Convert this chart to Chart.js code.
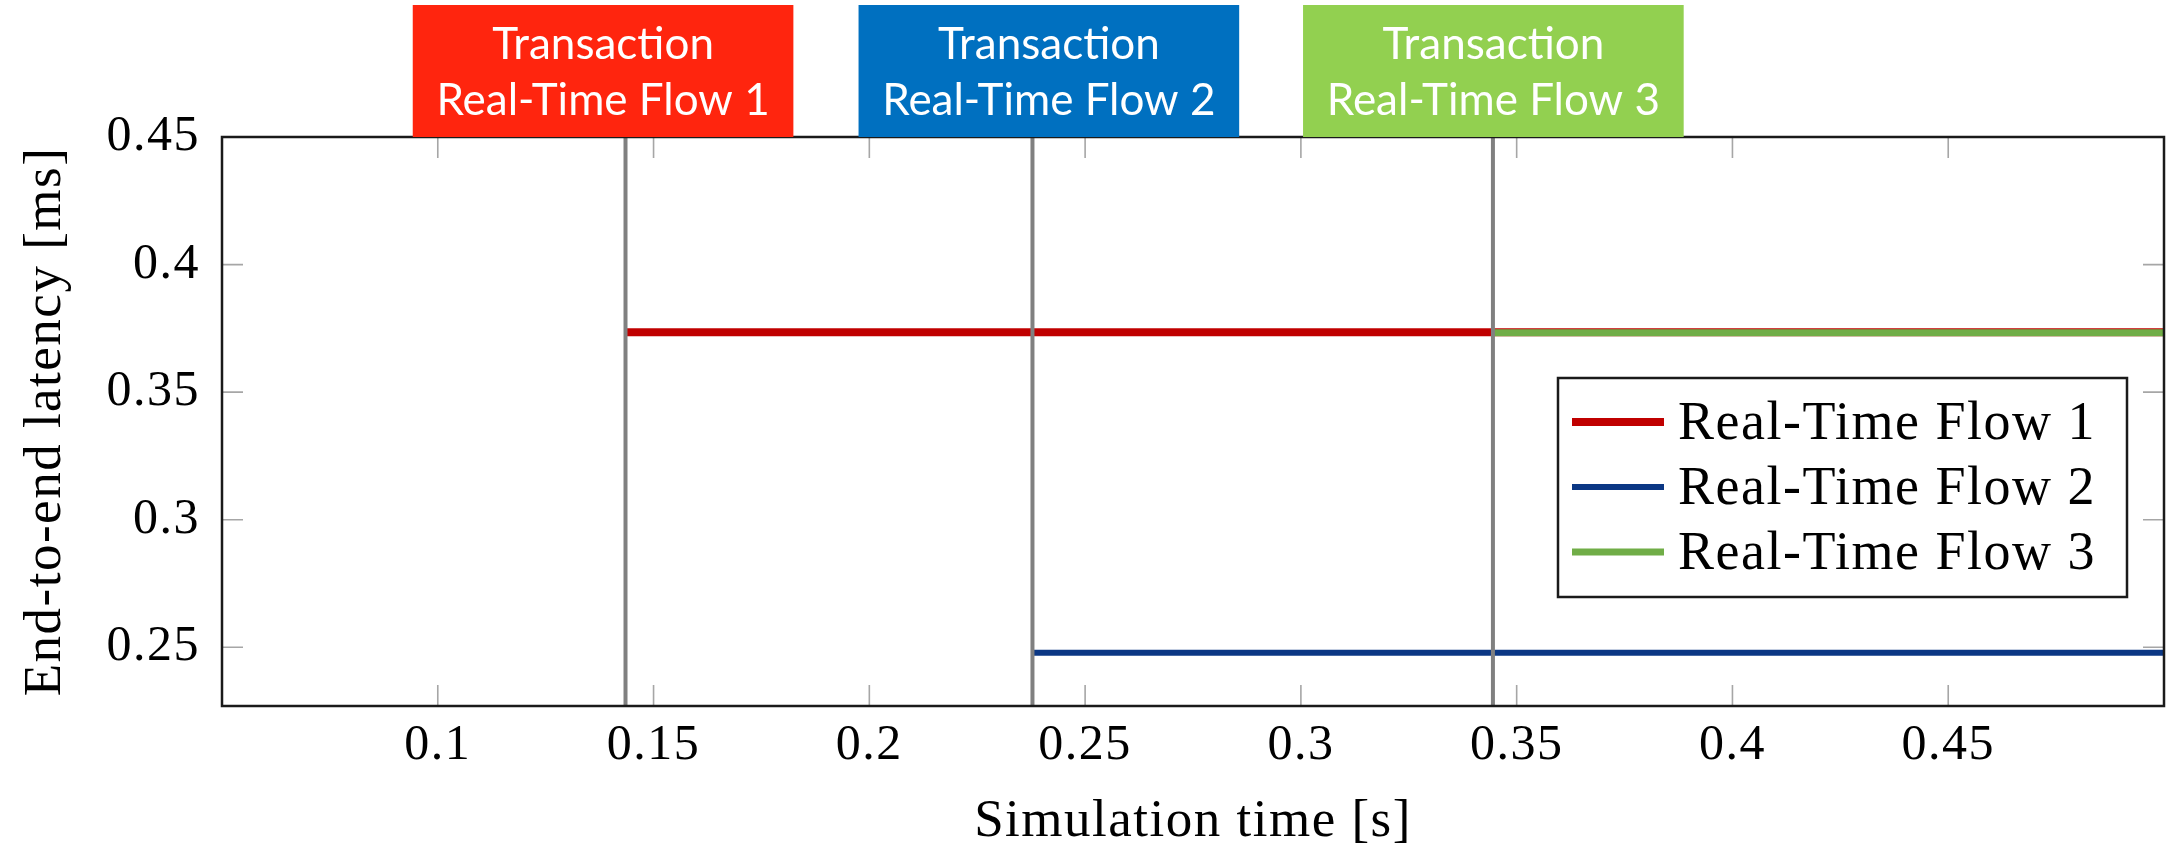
<!DOCTYPE html>
<html>
<head>
<meta charset="utf-8">
<script src="https://cdn.jsdelivr.net/npm/chart.js@4.4.1/dist/chart.umd.min.js"></script>
<style>
  html, body { margin: 0; padding: 0; background: #fff; }
  #wrap { width: 2166px; height: 850px; }
</style>
</head>
<body>
<div id="wrap"><canvas id="latency" width="2166" height="850"></canvas></div>
<script>
// flows: start time of the transaction [s] and the measured latency [ms]
const flowNames = ["Real-Time Flow 1", "Real-Time Flow 2", "Real-Time Flow 3"];
const flowStart = [0.1435, 0.2378, 0.3445];
const flowEnd = [0.5, 0.5, 0.5];
const flowLatency = [0.3735, 0.2479, 0.3733];

const xTicks = [0.1, 0.15, 0.2, 0.25, 0.3, 0.35, 0.4, 0.45];
const yTicks = [0.25, 0.3, 0.35, 0.4, 0.45];

const lineColors = ["#c00000", "#0b3784", "#70ad47"];
const lineWidths = [8, 6, 7];

// coloured "Transaction" boxes above the plot, centred on the time axis
const boxTitles = ["Transaction", "Transaction", "Transaction"];
const boxCenters = [0.1383, 0.2416, 0.3446];
const boxColors = ["#ff250e", "#0070c0", "#92d050"];
const BOX_SPAN = 0.0882; // width of a box in seconds

const serif = "'Liberation Serif', 'DejaVu Serif', serif";

const datasets = flowNames.map((name, i) => ({
  label: name,
  data: [{x: flowStart[i], y: flowLatency[i]}, {x: flowEnd[i], y: flowLatency[i]}],
  borderColor: lineColors[i],
  borderWidth: lineWidths[i],
  pointRadius: 0,
  borderCapStyle: "butt",
  order: [3, 2, 1][i]  // flow 3 on top of flow 1
}));

// frame, inward ticks, event lines, label boxes and the boxed legend
const decor = {
  id: "decor",
  beforeDraw(chart) {
    // the LaTeX font is wider than Liberation Serif, spread the letters a bit
    chart.ctx.letterSpacing = "1.5px";
  },
  afterDatasetsDraw(chart) {
    const {ctx, chartArea: a, scales: {x, y}} = chart;
    ctx.save();
    // vertical lines at each transaction
    ctx.strokeStyle = "#808080";
    ctx.lineWidth = 4;
    flowStart.forEach(t => {
      const px = x.getPixelForValue(t);
      ctx.beginPath(); ctx.moveTo(px, a.top); ctx.lineTo(px, a.bottom); ctx.stroke();
    });
    // inward ticks on all four sides
    ctx.strokeStyle = "#a6a6a6";
    ctx.lineWidth = 1.6;
    xTicks.forEach(v => {
      const px = x.getPixelForValue(v);
      ctx.beginPath();
      ctx.moveTo(px, a.bottom); ctx.lineTo(px, a.bottom - 21);
      ctx.moveTo(px, a.top); ctx.lineTo(px, a.top + 21);
      ctx.stroke();
    });
    yTicks.forEach(v => {
      const py = y.getPixelForValue(v);
      ctx.beginPath();
      ctx.moveTo(a.left, py); ctx.lineTo(a.left + 21, py);
      ctx.moveTo(a.right, py); ctx.lineTo(a.right - 21, py);
      ctx.stroke();
    });
    // plot frame
    ctx.strokeStyle = "#1a1a1a";
    ctx.lineWidth = 2.5;
    ctx.strokeRect(a.left, a.top, a.right - a.left, a.bottom - a.top);
    ctx.restore();
  },
  afterDraw(chart) {
    const {ctx, chartArea: a, scales: {x}} = chart;
    ctx.save();
    // boxes
    ctx.letterSpacing = "0px";
    boxCenters.forEach((c, i) => {
      const l = x.getPixelForValue(c - BOX_SPAN / 2);
      const r = x.getPixelForValue(c + BOX_SPAN / 2);
      ctx.fillStyle = boxColors[i];
      ctx.fillRect(l, 5, r - l, a.top - 5);
      ctx.fillStyle = "#fff";
      ctx.font = "44px Lato, 'Open Sans', sans-serif";
      ctx.textAlign = "center";
      ctx.textBaseline = "alphabetic";
      ctx.fillText(boxTitles[i], (l + r) / 2, 59);
      ctx.fillText(flowNames[i], (l + r) / 2, 115);
    });
    // legend
    const lx = 1558, ly = 378, lw = 569, lh = 219;
    ctx.fillStyle = "#fff";
    ctx.fillRect(lx, ly, lw, lh);
    ctx.strokeStyle = "#1a1a1a";
    ctx.lineWidth = 2.5;
    ctx.strokeRect(lx, ly, lw, lh);
    ctx.font = "54px " + serif;
    ctx.letterSpacing = "1.5px";
    ctx.textAlign = "left";
    chart.data.datasets.forEach((ds, i) => {
      const rowY = ly + 44 + i * 65;
      ctx.strokeStyle = ds.borderColor;
      ctx.lineWidth = ds.borderWidth;
      ctx.beginPath(); ctx.moveTo(1572, rowY); ctx.lineTo(1664, rowY); ctx.stroke();
      ctx.fillStyle = "#000";
      ctx.fillText(ds.label, 1678, rowY + 17);
    });
    ctx.restore();
  }
};

new Chart(document.getElementById("latency"), {
  type: "line",
  data: {datasets},
  plugins: [decor],
  options: {
    responsive: false,
    animation: false,
    layout: {padding: {top: 137, right: 2, left: 0, bottom: 0}},
    plugins: {legend: {display: false}, tooltip: {enabled: false}},
    scales: {
      x: {
        type: "linear",
        min: 0.05,
        max: 0.5,
        afterBuildTicks: s => { s.ticks = xTicks.map(v => ({value: v})); },
        afterFit: s => { s.height = 144; },
        grid: {display: false, drawTicks: false},
        border: {display: false},
        ticks: {
          color: "#000",
          padding: 10,
          font: {family: serif, size: 50},
          callback: v => String(v)
        },
        title: {
          display: true,
          text: "Simulation time [s]",
          color: "#000",
          font: {family: serif, size: 53, lineHeight: 1},
          padding: {top: 0, bottom: 1}
        }
      },
      y: {
        type: "linear",
        min: 0.227,
        max: 0.45,
        afterBuildTicks: s => { s.ticks = yTicks.map(v => ({value: v})); },
        afterFit: s => { s.width = 222; },
        grid: {display: false, drawTicks: false},
        border: {display: false},
        ticks: {
          color: "#000",
          padding: 22,
          font: {family: serif, size: 50},
          callback: v => String(v)
        },
        title: {
          display: true,
          text: "End-to-end latency [ms]",
          color: "#000",
          font: {family: serif, size: 53, lineHeight: 1},
          padding: {top: 20, bottom: 0}
        }
      }
    }
  }
});
</script>
</body>
</html>
